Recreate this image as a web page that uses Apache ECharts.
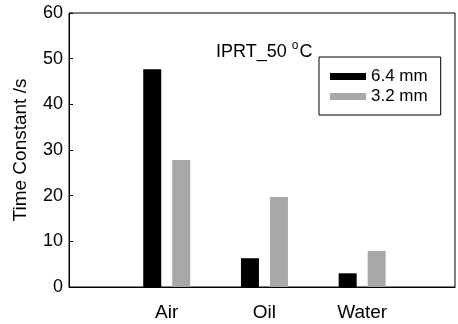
<!DOCTYPE html>
<html>
<head>
<meta charset="utf-8">
<script src="https://cdn.jsdelivr.net/npm/echarts@6/dist/echarts.min.js"></script>
<style>
  html, body { margin: 0; padding: 0; background: #fff; }
  #chart { width: 458px; height: 324px; }
</style>
</head>
<body>
<div id="chart"></div>
<script>
var categories = ['Air', 'Oil', 'Water'];
var series64 = [47.7, 6.3, 3.0];   // 6.4 mm
var series32 = [27.8, 19.7, 7.9];  // 3.2 mm
var seriesNames = ['6.4 mm', '3.2 mm'];
var yTicks = [0, 10, 20, 30, 40, 50, 60];

var font = '"Liberation Sans", Arial, sans-serif';

function toPoints(vals) {
    // category i sits at x = i + 1 on the value axis
    return vals.map(function (v, i) { return [i + 1, v]; });
}

var chart = echarts.init(document.getElementById('chart'));
var option = {
    animation: false,
    backgroundColor: '#fff',
    title: {
        text: '{m|IPRT_50 }{sup|o}{m|C}',
        left: 211,
        top: 34,
        textStyle: {
            fontWeight: 'normal',
            rich: {
                m: { fontFamily: font, fontSize: 18, fontWeight: 'normal', color: '#000', lineHeight: 22, verticalAlign: 'bottom' },
                sup: { fontFamily: font, fontSize: 12, fontWeight: 'normal', color: '#000', lineHeight: 12, verticalAlign: 'bottom', padding: [0, 1, 9, 0] }
            }
        }
    },
    legend: {
        orient: 'vertical',
        left: 319,
        top: 57,
        padding: [11, 13, 10, 11],
        itemGap: 3,
        itemWidth: 36,
        itemHeight: 7,
        borderColor: '#000',
        borderWidth: 1,
        icon: 'rect',
        data: seriesNames,
        textStyle: { fontFamily: font, fontSize: 17, color: '#000' }
    },
    grid: {
        left: 69,
        right: 3,
        top: 13,
        bottom: 37,
        show: true,
        borderColor: '#000',
        borderWidth: 1
    },
    xAxis: {
        type: 'value',
        min: 0,
        max: 3.95,
        interval: 1,
        splitLine: { show: false },
        axisLine: { show: true, lineStyle: { color: '#000', width: 1 } },
        axisTick: { show: false },
        axisLabel: {
            margin: 16,
            fontFamily: font,
            fontSize: 19,
            color: '#000',
            showMaxLabel: false,
            formatter: function (v) {
                var c = categories[Math.round(v) - 1];
                return (Math.abs(v - Math.round(v)) < 1e-6 && c) ? c : '';
            }
        }
    },
    yAxis: {
        type: 'value',
        min: yTicks[0],
        max: yTicks[yTicks.length - 1],
        interval: 10,
        name: 'Time Constant /s',
        nameLocation: 'middle',
        nameGap: 39,
        nameTextStyle: { fontFamily: font, fontSize: 19, color: '#000' },
        splitLine: { show: false },
        axisLine: { show: true, lineStyle: { color: '#000', width: 1 } },
        axisTick: { show: true, inside: true, length: 4, lineStyle: { color: '#000' } },
        axisLabel: { margin: 6, fontFamily: font, fontSize: 18, color: '#000' }
    },
    series: [
        {
            name: seriesNames[0],
            type: 'bar',
            barWidth: 18,
            barGap: '61%',
            itemStyle: { color: '#000' },
            data: toPoints(series64)
        },
        {
            name: seriesNames[1],
            type: 'bar',
            barWidth: 18,
            itemStyle: { color: '#a8a8a8' },
            data: toPoints(series32)
        }
    ]
};
chart.setOption(option);
</script>
</body>
</html>
